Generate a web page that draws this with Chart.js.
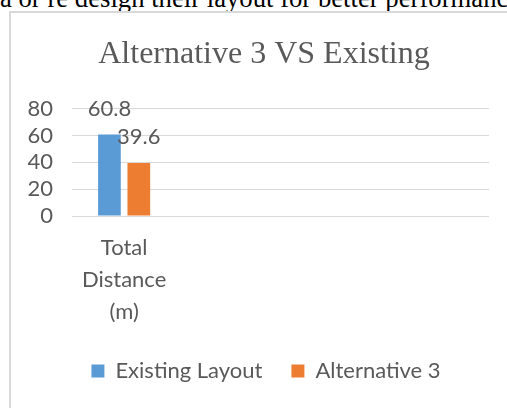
<!DOCTYPE html>
<html>
<head>
<meta charset="utf-8">
<script src="https://cdn.jsdelivr.net/npm/chart.js@4/dist/chart.umd.min.js"></script>
<style>
  html, body { margin: 0; padding: 0; background: #fff; }
  body { width: 507px; height: 408px; overflow: hidden; position: relative; }
  .doc-line {
    position: absolute; left: 0; top: -16.7px;
    font-family: "Liberation Serif", serif; font-size: 26.7px; line-height: 30px;
    color: #000; white-space: nowrap;
  }
  .frame {
    position: absolute; left: 9px; top: 11px; width: 512px; height: 420px;
    border: 2px solid #d9d9d9; box-sizing: border-box;
  }
  #altChart { position: absolute; left: 11px; top: 13px; }
</style>
</head>
<body>
<div class="doc-line">a or re design their layout for better performance</div>
<div class="frame"></div>
<canvas id="altChart" width="506" height="400"></canvas>
<script>
// categories (only the first one carries values)
const categories = [['Total', 'Distance', '(m)'], '', '', ''];
const existingLayout = [60.8, null, null, null];
const alternative3 = [39.6, null, null, null];
const yTicks = [0, 20, 40, 60, 80];

const textGrey = '#595959';
const labelFont = { family: 'Lato', size: 22 };

// writes each bar's value above it
const barValueLabels = {
    id: 'barValueLabels',
    afterDatasetsDraw(chart) {
        const ctx = chart.ctx;
        ctx.save();
        ctx.font = '22px Lato';
        ctx.fillStyle = textGrey;
        ctx.textAlign = 'center';
        ctx.textBaseline = 'middle';
        chart.data.datasets.forEach((ds, i) => {
            chart.getDatasetMeta(i).data.forEach((bar, j) => {
                const v = ds.data[j];
                if (v === null) return;
                ctx.fillText(v.toFixed(1), bar.x, bar.y - 25.5);
            });
        });
        ctx.restore();
    }
};

// centre title and legend on the whole canvas instead of the padded box
const centreHeaderFooter = {
    id: 'centreHeaderFooter',
    afterLayout(chart) {
        chart.titleBlock.left = 0;
        chart.titleBlock.right = chart.width;
        chart.legend.left = 4;
        chart.legend.right = chart.width;
    }
};

const ctx = document.getElementById('altChart').getContext('2d');
const altChart = new Chart(ctx, {
    type: 'bar',
    data: {
        labels: categories,
        datasets: [{
            label: 'Existing Layout',
            data: existingLayout,
            backgroundColor: '#5B9BD5',
            borderWidth: 0
        }, {
            label: 'Alternative 3',
            data: alternative3,
            backgroundColor: '#ED7D31',
            borderWidth: 0
        }]
    },
    options: {
        responsive: false,
        animation: false,
        devicePixelRatio: 1,
        categoryPercentage: 0.564,
        barPercentage: 0.772,
        layout: { padding: { left: 16, right: 28, top: 0, bottom: 21 } },
        plugins: {
            title: {
                display: true,
                text: 'Alternative 3 VS Existing',
                color: textGrey,
                font: { family: 'Liberation Serif', size: 32, weight: 'normal', lineHeight: 1.2 },
                padding: { top: 22, bottom: 35.3 }
            },
            legend: {
                position: 'bottom',
                labels: {
                    color: textGrey,
                    font: labelFont,
                    boxWidth: 13,
                    boxHeight: 13,
                    padding: 29
                }
            },
            tooltip: { enabled: false }
        },
        scales: {
            x: {
                min: 0,
                max: categories.length - 1,
                grid: { display: false, drawTicks: false },
                border: { display: false },
                ticks: {
                    color: textGrey,
                    font: { family: 'Lato', size: 22, lineHeight: 32 / 22 },
                    padding: 16,
                    maxRotation: 0,
                    autoSkip: false
                },
                afterFit: (scale) => { scale.height = 115; }
            },
            y: {
                min: yTicks[0],
                max: yTicks[yTicks.length - 1],
                afterBuildTicks: (scale) => { scale.ticks = yTicks.map(v => ({ value: v })); },
                afterFit: (scale) => { scale.width = 45; },
                grid: { color: '#d9d9d9', lineWidth: 1, drawTicks: false },
                border: { display: false },
                ticks: {
                    color: textGrey,
                    font: labelFont,
                    padding: 19,
                    autoSkip: false
                }
            }
        }
    },
    plugins: [barValueLabels, centreHeaderFooter]
});
</script>
</body>
</html>
